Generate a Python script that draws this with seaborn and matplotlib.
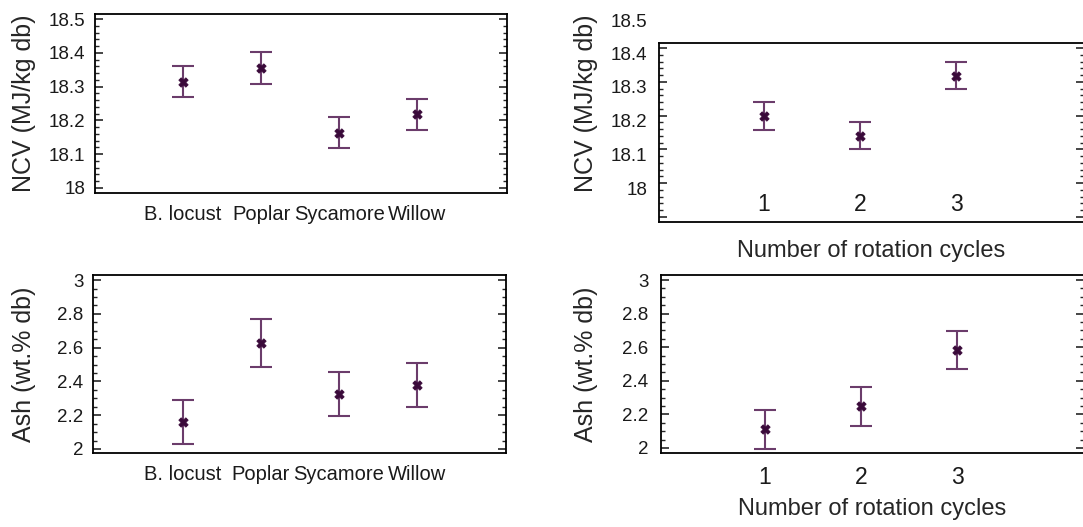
import numpy as np
import matplotlib
matplotlib.use('Agg')
import matplotlib.pyplot as plt
import seaborn as sns
from matplotlib.ticker import AutoMinorLocator
from matplotlib.transforms import ScaledTranslation

# species panels
species = ['B. locust', 'Poplar', 'Sycamore', 'Willow']
ncv_species = [18.314, 18.355, 18.163, 18.218]
ncv_species_err = [0.046, 0.048, 0.046, 0.046]
ash_species = [2.16, 2.627, 2.325, 2.379]
ash_species_err = [0.13, 0.14, 0.13, 0.13]

# rotation cycle panels
cycles = [1, 2, 3]
ncv_cycles = [18.199, 18.140, 18.318]
ncv_cycles_err = [0.041, 0.040, 0.040]
ash_cycles = [2.11, 2.247, 2.583]
ash_cycles_err = [0.118, 0.115, 0.113]

ncv_ticks = [18.0, 18.1, 18.2, 18.3, 18.4, 18.5]
ncv_labels = ['18', '18.1', '18.2', '18.3', '18.4', '18.5']
ncv_ticks_r = [17.9, 18.0, 18.1, 18.2, 18.3, 18.4]
ncv_labels_r = ['', '18', '18.1', '18.2', '18.3', '18.4']
ash_ticks = [2, 2.2, 2.4, 2.6, 2.8, 3]
ash_labels = ['2', '2.2', '2.4', '2.6', '2.8', '3']

sns.set_style('white')
plt.rcParams['font.family'] = ['Liberation Sans', 'DejaVu Sans']

BAR = '#6b3c6b'
DOT = '#3a0a3a'
TXT = '#1a1a1a'
W, H = 1083, 527

fig = plt.figure(figsize=(W / 100, H / 100), dpi=100)


def box(l, t, r, b):
    return [l / W, 1 - b / H, (r - l) / W, (b - t) / H]


def draw_panel(ax, x, y, err, minor):
    ax.errorbar(x, y, yerr=err, fmt='none', ecolor=BAR, elinewidth=1.5,
                capsize=8, capthick=1.5, zorder=2)
    sns.scatterplot(x=x, y=y, ax=ax, marker='X', s=45, color=DOT,
                    edgecolor=DOT, linewidth=0.6, zorder=3, legend=False)
    for sp in ax.spines.values():
        sp.set_color('black')
        sp.set_linewidth(1.3)
    ax.yaxis.set_minor_locator(AutoMinorLocator(minor))
    ax.tick_params(axis='y', which='major', direction='in', length=6, width=1.2,
                   left=True, right=True, labelsize=13.5, pad=7, labelcolor=TXT)
    ax.tick_params(axis='y', which='minor', direction='in', length=3, width=1,
                   left=True, right=True)


# top-left: NCV by species
ax1 = fig.add_axes(box(95, 14, 507, 193))
pos = np.arange(1, len(species) + 1)
draw_panel(ax1, pos, ncv_species, ncv_species_err, 5)
ax1.set_xlim(-0.13, 5.15)
ax1.set_ylim(17.985, 18.515)
ax1.set_yticks(ncv_ticks, ncv_labels)
ax1.set_xticks(pos, species)
ax1.tick_params(axis='x', length=0, labelsize=14.5, pad=9, labelcolor=TXT)
ax1.set_ylabel('NCV (MJ/kg db)', fontsize=18)
ax1.yaxis.set_label_coords(-0.143, 0.5)

# bottom-left: ash by species
ax2 = fig.add_axes(box(93, 275, 506, 453))
draw_panel(ax2, pos, ash_species, ash_species_err, 4)
ax2.set_xlim(-0.15, 5.14)
ax2.set_ylim(1.976, 3.03)
ax2.set_yticks(ash_ticks, ash_labels)
ax2.set_xticks(pos, species)
ax2.tick_params(axis='x', length=0, labelsize=14.5, pad=9, labelcolor=TXT)
ax2.set_ylabel('Ash (wt.% db)', fontsize=18)
ax2.yaxis.set_label_coords(-0.138, 0.5)

# top-right: NCV by rotation cycles
ax3 = fig.add_axes(box(659, 43, 1084, 222))
draw_panel(ax3, cycles, ncv_cycles, ncv_cycles_err, 5)
ax3.set_xlim(-0.094, 4.33)
ax3.set_ylim(17.885, 18.415)
ax3.set_yticks(ncv_ticks_r, ncv_labels_r)
ax3.set_xticks(cycles, [str(c) for c in cycles])
ax3.tick_params(axis='x', length=0, labelsize=16.5, pad=-21, labelcolor=TXT)
ax3.tick_params(axis='y', pad=8.5)
shift = ScaledTranslation(0, -5 / 100, fig.dpi_scale_trans)
for lab in ax3.get_yticklabels():
    lab.set_transform(lab.get_transform() + shift)
ax3.text(-0.028, 1.117, '18.5', transform=ax3.transAxes, ha='right', va='center',
         fontsize=13.5, color=TXT)
ax3.set_ylabel('NCV (MJ/kg db)', fontsize=18)
ax3.yaxis.set_label_coords(-0.1435, 0.665)
ax3.set_xlabel('Number of rotation cycles', fontsize=17)
ax3.xaxis.set_label_coords(0.5, -0.10)

# bottom-right: ash by rotation cycles
ax4 = fig.add_axes(box(661, 275, 1084, 453))
draw_panel(ax4, cycles, ash_cycles, ash_cycles_err, 4)
ax4.set_xlim(-0.083, 4.32)
ax4.set_ylim(1.97, 3.03)
ax4.set_yticks(ash_ticks, ash_labels)
ax4.set_xticks(cycles, [str(c) for c in cycles])
ax4.tick_params(axis='x', length=0, labelsize=16.5, pad=9, labelcolor=TXT)
ax4.tick_params(axis='y', pad=9)
ax4.set_ylabel('Ash (wt.% db)', fontsize=18)
ax4.yaxis.set_label_coords(-0.149, 0.5)
ax4.set_xlabel('Number of rotation cycles', fontsize=17)
ax4.xaxis.set_label_coords(0.5, -0.253)

fig.savefig('out.png', dpi=100)
